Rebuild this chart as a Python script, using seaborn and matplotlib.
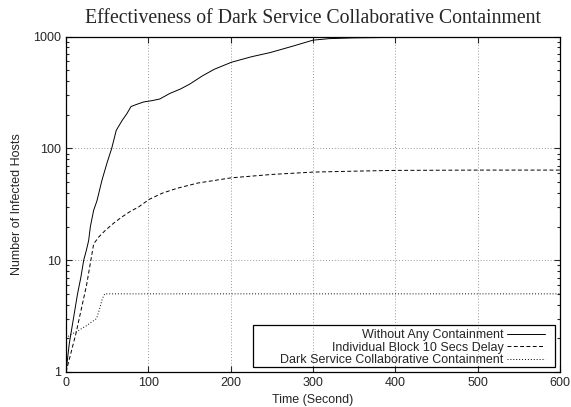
import pandas as pd
import matplotlib
matplotlib.use("Agg")
import matplotlib.pyplot as plt
import seaborn as sns
from matplotlib.patches import Rectangle

# datos
t_none = [0, 4, 9, 14, 18, 21.5, 25, 27.5, 29.6, 33.6, 37.6, 43.7, 50, 55.5, 61, 68, 74, 79,
          86, 94, 105, 114, 126, 139, 150, 166, 180, 201, 225, 248, 275, 300, 320, 350, 400, 450]
v_none = [1, 1.8, 3, 5, 7, 10, 12.5, 15, 20, 28, 34, 52, 75, 100, 145, 177, 205, 237,
          248, 260, 268, 277, 310, 340, 375, 447, 510, 590, 660, 720, 820, 930, 960, 975, 985, 990]

t_block = [0, 12, 25, 33.6, 40, 47.8, 58, 68, 78, 88, 101, 117, 135, 160, 201, 250, 300, 350, 400, 500, 600]
v_block = [1, 2.2, 6, 14, 16.2, 18.5, 21.5, 24.4, 27.3, 29.9, 35, 39.8, 44, 49, 54.6, 58.5, 61.4, 62.6, 63.6, 64, 64]

t_dark = [0, 5, 13, 25, 37, 40, 44, 47, 600]
v_dark = [2.0, 2.15, 2.3, 2.6, 3.0, 3.5, 4.5, 5.0, 5.0]

labels = ["Without Any Containment", "Individual Block 10 Secs Delay",
          "Dark Service Collaborative Containment"]

sns.set_style("ticks")
plt.rcParams['font.family'] = ['Liberation Sans', 'DejaVu Sans']

fig = plt.figure(figsize=(5.71, 4.07), dpi=100)
ax = fig.add_axes([0.1156, 0.086, 0.865, 0.824])

sns.lineplot(x=t_none, y=v_none, ax=ax, color='black', lw=0.7, estimator=None, label=labels[0])
sns.lineplot(x=t_block, y=v_block, ax=ax, color='black', lw=0.7, estimator=None, label=labels[1])
sns.lineplot(x=t_dark, y=v_dark, ax=ax, color='black', lw=0.7, estimator=None, label=labels[2])
ax.lines[1].set_dashes([4, 2.5])
ax.lines[2].set_dashes([1, 2])

ax.set_yscale('log')
ax.set_xlim(0, 600)
ax.set_ylim(1, 1000)
ax.set_xticks([0, 100, 200, 300, 400, 500, 600])
ax.set_yticks([1, 10, 100, 1000])
ax.set_yticklabels(['1', '10', '100', '1000'])
ax.tick_params(which='both', direction='in', top=True, right=True, labelsize=9, width=0.8)
ax.tick_params(which='major', length=4)
ax.tick_params(which='minor', length=2.5)
ax.tick_params(axis='x', which='minor', top=False, bottom=False)
for s in ax.spines.values():
    s.set_linewidth(0.9)
    s.set_color('black')
ax.grid(True, which='major', color='#999999', linestyle=(0, (1, 2)), linewidth=0.7)

ax.set_xlabel('Time (Second)', fontsize=9, labelpad=4)
ax.set_ylabel('Number of Infected Hosts', fontsize=9, labelpad=7)
ax.set_title('Effectiveness of Dark Service Collaborative Containment',
             fontsize=14.2, family='Liberation Serif', pad=10)

leg = ax.legend(loc='upper right', bbox_to_anchor=(0.982, 0.147), frameon=False, fontsize=9,
                markerfirst=False, handlelength=3, handletextpad=0.3, labelspacing=0.05,
                borderpad=0)
for ln in leg.get_lines():
    ln.set_linewidth(0.7)
ax.add_patch(Rectangle((0.378, 0.015), 0.612, 0.125, transform=ax.transAxes, fill=False,
                       edgecolor='black', lw=0.9, zorder=5))

plt.savefig('out.png', dpi=100)
